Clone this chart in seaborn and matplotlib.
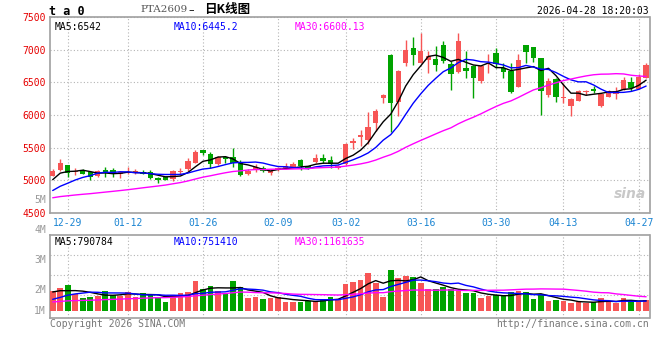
import numpy as np
import pandas as pd
import matplotlib
matplotlib.use('Agg')
import matplotlib.pyplot as plt
import seaborn as sns

# daily bars, PTA2609, 2025-12-25 .. 2026-04-28
dates = ['12-25', '12-26', '12-29', '12-30', '12-31',
         '01-05', '01-06', '01-07', '01-08', '01-09',
         '01-12', '01-13', '01-14', '01-15', '01-16',
         '01-19', '01-20', '01-21', '01-22', '01-23',
         '01-26', '01-27', '01-28', '01-29', '01-30',
         '02-02', '02-03', '02-04', '02-05', '02-06',
         '02-09', '02-10', '02-11', '02-12', '02-13',
         '02-24', '02-25', '02-26', '02-27',
         '03-02', '03-03', '03-04', '03-05', '03-06',
         '03-09', '03-10', '03-11', '03-12', '03-13',
         '03-16', '03-17', '03-18', '03-19', '03-20',
         '03-23', '03-24', '03-25', '03-26', '03-27',
         '03-30', '03-31', '04-01', '04-02', '04-03',
         '04-07', '04-08', '04-09', '04-10',
         '04-13', '04-14', '04-15', '04-16', '04-17',
         '04-20', '04-21', '04-22', '04-23', '04-24',
         '04-27', '04-28']

open_ = [5070, 5160, 5230, 5120, 5160, 5120, 5060, 5165, 5160, 5100,
         5110, 5125, 5130, 5130, 5040, 5045, 5020, 5135, 5172, 5265,
         5465, 5405, 5250, 5350, 5355, 5285, 5100, 5160, 5195, 5110,
         5165, 5190, 5210, 5315, 5215, 5285, 5340, 5315, 5190, 5245,
         5565, 5670, 5610, 5870, 6262, 6925, 6200, 6797, 7025, 6797,
         6835, 6858, 7077, 6780, 6660, 6720, 6745, 6515, 6850, 6955,
         6715, 6680, 6435, 7070, 7035, 6870, 6307, 6550, 6255, 6140,
         6220, 6350, 6400, 6135, 6280, 6328, 6390, 6505, 6400, 6565]
high = [5180, 5320, 5240, 5185, 5170, 5130, 5160, 5210, 5190, 5150,
        5210, 5170, 5160, 5160, 5050, 5055, 5160, 5190, 5340, 5460,
        5470, 5430, 5380, 5380, 5490, 5310, 5180, 5250, 5215, 5180,
        5200, 5265, 5285, 5325, 5225, 5405, 5400, 5365, 5240, 5570,
        5650, 5775, 6050, 6085, 6315, 6930, 6690, 7155, 7190, 7255,
        6975, 7050, 7130, 6825, 7255, 6975, 6770, 6770, 6935, 7020,
        6800, 6800, 6935, 7075, 7040, 6875, 6560, 6560, 6495, 6255,
        6380, 6390, 6440, 6330, 6380, 6425, 6580, 6580, 6620, 6800]
low = [5060, 5150, 5050, 5085, 5090, 5000, 5055, 5050, 5050, 5040,
       5100, 5090, 5095, 5020, 4965, 5000, 4990, 5090, 5140, 5260,
       5390, 5190, 5240, 5270, 5210, 5060, 5085, 5120, 5125, 5085,
       5150, 5180, 5200, 5165, 5180, 5270, 5265, 5190, 5175, 5235,
       5475, 5525, 5550, 5755, 6185, 5740, 5985, 6745, 6760, 6790,
       6645, 6670, 6800, 6390, 6640, 6565, 6260, 6495, 6650, 6715,
       6560, 6340, 6425, 6790, 6815, 6005, 6270, 6205, 6180, 5985,
       6210, 6300, 6330, 6130, 6270, 6250, 6385, 6365, 6395, 6560]
close = [5150, 5270, 5110, 5150, 5095, 5045, 5150, 5125, 5095, 5120,
         5135, 5130, 5100, 5030, 5000, 5010, 5145, 5145, 5300, 5440,
         5425, 5255, 5360, 5330, 5265, 5075, 5150, 5200, 5145, 5145,
         5190, 5220, 5250, 5225, 5190, 5345, 5300, 5250, 5225, 5550,
         5600, 5690, 5820, 6058, 6312, 6185, 6670, 7000, 6925, 6985,
         6900, 6770, 6825, 6630, 7130, 6680, 6565, 6750, 6858, 6780,
         6665, 6345, 6845, 6970, 6880, 6360, 6520, 6280, 6260, 6250,
         6360, 6360, 6360, 6325, 6360, 6372, 6540, 6415, 6578, 6762]
volume = [1575000, 1811000, 2073000, 1330000, 1024000, 1102000, 1207000, 1575000, 1286000, 1207000,
          1496000, 1102000, 1417000, 1260000, 1129000, 709000, 1260000, 1417000, 1496000, 2362000,
          1732000, 1969000, 1575000, 1444000, 2362000, 1890000, 1024000, 1102000, 945000, 1024000,
          1102000, 709000, 709000, 709000, 814000, 814000, 945000, 1102000, 945000, 2120000,
          2260000, 2415000, 2966000, 2205000, 1102000, 3202000, 2598000, 2756000, 2651000, 2205000,
          1706000, 1706000, 1890000, 1706000, 1549000, 1417000, 1417000, 1024000, 1181000, 1234000,
          1155000, 1496000, 1549000, 1496000, 919000, 1312000, 761000, 840000, 761000, 630000,
          709000, 630000, 709000, 1024000, 761000, 630000, 1024000, 761000, 761000, 840000]

# 29 sessions before the first bar, estimated from where the MA lines start
prev_close = [4720, 4750, 4780, 4770, 4760, 4790, 4770, 4740, 4760, 4750,
              4700, 4660, 4620, 4590, 4570, 4560, 4580, 4560, 4550, 4570,
              4620, 4640, 4660, 4700, 4770, 4770, 4985, 5125, 5020]
prev_volume = [620000, 680000, 640000, 700000, 660000, 600000, 720000, 650000, 630000, 690000,
               580000, 620000, 550000, 600000, 570000, 520000, 560000, 500000, 540000, 570000,
               300000, 320000, 340000, 360000, 380000, 1310000, 2070000, 1300000, 1240000]

tick_dates = ['12-29', '01-12', '01-26', '02-09', '03-02', '03-16', '03-30', '04-13', '04-27']
price_ticks = [4500, 5000, 5500, 6000, 6500, 7000, 7500]

RED = '#f75555'
GREEN = '#00a300'
GRID = '#b4b4b4'
FRAME = '#a0a0a0'
MONO = 'DejaVu Sans Mono'

sns.set_style('white')
plt.rcParams['font.family'] = [MONO, 'Noto Sans CJK SC']
plt.rcParams['font.size'] = 7

df = pd.DataFrame({'date': dates, 'open': open_, 'high': high, 'low': low,
                   'close': close, 'volume': volume})
df['i'] = np.arange(len(df))
df['dir'] = np.where(df['close'] >= df['open'], 'up', 'down')
df['vol_m'] = df['volume'] / 1e6
n_prev = len(prev_close)
all_close = pd.Series(prev_close + close)
all_vol = pd.Series(prev_volume + volume) / 1e6
for w in (5, 10, 30):
    df[f'ma{w}'] = all_close.rolling(w).mean().iloc[n_prev:].values
    df[f'vma{w}'] = all_vol.rolling(w).mean().iloc[n_prev:].values

W, H = 660, 360
fig = plt.figure(figsize=(W / 100, H / 100), dpi=100)
fig.patch.set_facecolor('white')
ax = fig.add_axes([50 / W, 1 - 213 / H, 599.5 / W, 196 / H])
axv = fig.add_axes([50 / W, 1 - 318 / H, 599.5 / W, 83.5 / H])

tick_pos = [dates.index(d) for d in tick_dates]
xlim = (-0.36, 79.45)
colors = df['dir'].map({'up': RED, 'down': GREEN})

# --- price panel
ax.vlines(df['i'], df['low'], df['high'], colors=colors, lw=1, zorder=3)
body_lo = df[['open', 'close']].min(axis=1)
body_h = (df['close'] - df['open']).abs().clip(lower=14)
ax.bar(df['i'], body_h, bottom=body_lo, width=0.72, color=colors, lw=0, zorder=4)
for col, c in (('ma5', 'black'), ('ma10', '#0000ff'), ('ma30', '#ff00ff')):
    sns.lineplot(data=df, x='i', y=col, color=c, lw=1.0, ax=ax, zorder=5)

ax.set_xlim(*xlim)
ax.set_ylim(4500, 7500)
ax.set_xticks(tick_pos)
ax.set_xticklabels(tick_dates, color='#1a84d2', fontsize=7)
ax.set_yticks(price_ticks)
ax.set_yticklabels([str(p) for p in price_ticks], color='#e60000', fontsize=7)
ax.tick_params(length=0, pad=3.5)
ax.tick_params(axis='y', pad=3.0)
ax.set_xlabel('')
ax.set_ylabel('')
ax.grid(True, color=GRID, lw=0.8, ls=(0, (1, 2)))
for s in ax.spines.values():
    s.set_color(FRAME)
    s.set_linewidth(1.2)

ax.text(0.007, 0.975, 'MA5:6542', transform=ax.transAxes, color='black', va='top', fontsize=7)
ax.text(0.207, 0.975, 'MA10:6445.2', transform=ax.transAxes, color='#0000ff', va='top', fontsize=7)
ax.text(0.408, 0.975, 'MA30:6600.13', transform=ax.transAxes, color='#ff00ff', va='top', fontsize=7)

# --- volume panel
axv.bar(df['i'], df['vol_m'], width=0.75, color=colors, lw=0, zorder=3)
for col, c in (('vma5', 'black'), ('vma10', '#0000ff'), ('vma30', '#ff00ff')):
    sns.lineplot(data=df, x='i', y=col, color=c, lw=1.0, ax=axv, zorder=5)

axv.set_xlim(*xlim)
axv.set_ylim(-7 / 12.7, 76.5 / 12.7)
axv.set_xticks(tick_pos)
axv.set_xticklabels([])
axv.set_yticks([16 / 12.7, 36 / 12.7, 56 / 12.7])
axv.set_yticklabels([])
axv.tick_params(length=0)
axv.set_xlabel('')
axv.set_ylabel('')
axv.grid(True, color=GRID, lw=0.8, ls=(0, (1, 2)))
for s in axv.spines.values():
    s.set_color(FRAME)
    s.set_linewidth(1.2)

axv.text(0.007, 0.97, 'MA5:790784', transform=axv.transAxes, color='black', va='top', fontsize=7)
axv.text(0.207, 0.97, 'MA10:751410', transform=axv.transAxes, color='#0000ff', va='top', fontsize=7)
axv.text(0.408, 0.97, 'MA30:1161635', transform=axv.transAxes, color='#ff00ff', va='top', fontsize=7)

# volume scale labels, as placed on the original
for lab, y in (('5M', 200), ('4M', 230.5), ('3M', 260), ('2M', 290), ('1M', 311)):
    fig.text(46 / W, 1 - y / H, lab, ha='right', va='center', color='#999999', fontsize=7)

# header / footer
fig.text(49 / W, 1 - 11.5 / H, 't a 0', ha='left', va='center', fontsize=8.5,
         fontweight='bold', color='black')
fig.text(140 / W, 1 - 10 / H, 'PTA2609', ha='left', va='center', fontsize=7.5,
         color='#555555', family='DejaVu Serif')
fig.text(188 / W, 1 - 10 / H, '–', ha='left', va='center', fontsize=8,
         color='black', family='DejaVu Sans')
fig.text(204 / W, 1 - 10 / H, '日K线图', ha='left', va='center', fontsize=9,
         fontweight='bold', color='black', family=['Noto Sans CJK SC', MONO])
fig.text(649 / W, 1 - 11 / H, '2026-04-28 18:20:03', ha='right', va='center',
         fontsize=7, color='black')
fig.text(50 / W, 1 - 324 / H, 'Copyright 2026 SINA.COM', ha='left', va='center',
         fontsize=7, color='#777777')
fig.text(649 / W, 1 - 324 / H, 'http://finance.sina.com.cn', ha='right', va='center',
         fontsize=7, color='#777777')
ax.text(0.995, 0.06, 'sina', transform=ax.transAxes, ha='right', va='bottom', fontsize=10,
        fontstyle='italic', fontweight='bold', color='#c8c8c8', family='DejaVu Sans', zorder=2)

fig.savefig('out.png', dpi=100)
